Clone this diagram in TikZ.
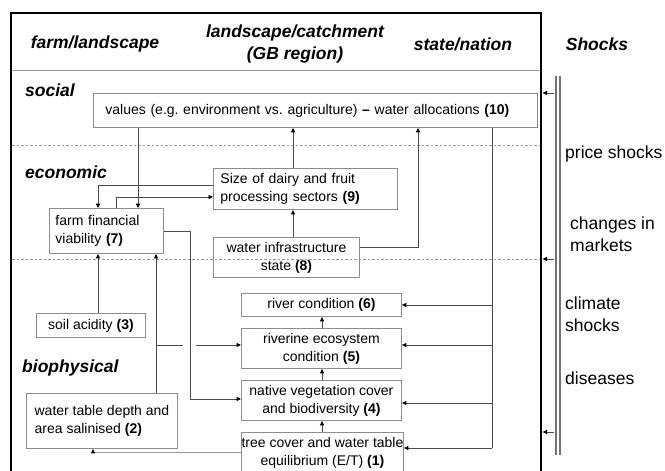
\documentclass[tikz,border=0pt]{standalone}
\usepackage{fontspec}
\setmainfont{Liberation Sans}
\usetikzlibrary{arrows.meta}
\frenchspacing
\begin{document}
\begin{tikzpicture}[x=1pt,y=-1pt,
  box/.style={draw=black!45, line width=0.9pt, inner sep=0pt, anchor=north west,
    font=\fontsize{14}{18}\selectfont},
  conn/.style={draw=black!70, line width=0.85pt},
  arr/.style={conn, -{Triangle[length=4.5pt,width=4pt,color=black]}},
  light/.style={draw=black!40},
  head/.style={font=\fontsize{17.5}{22}\selectfont\bfseries\itshape, inner sep=0pt, align=center},
  shock/.style={font=\fontsize{17.5}{22}\selectfont, inner sep=0pt, anchor=west, align=left},
  sep/.style={draw=black!40, line width=0.8pt},
  dsep/.style={draw=black!40, line width=0.8pt, dash pattern=on 2.5pt off 2pt}
]
\useasboundingbox (0,0) rectangle (665,471);
% frame
\coordinate (fTL) at (11,13);
\coordinate (fTR) at (541,13);
\coordinate (fBL) at (11,480);
\coordinate (fBR) at (541,480);
\draw[line width=1.8pt] (fBL) -- (fTL) -- (fTR) -- (fBR);
% separators
\coordinate (s1L) at (12,70);  \coordinate (s1R) at (540,70);
\coordinate (s2L) at (12,145); \coordinate (s2R) at (540,145);
\coordinate (s3L) at (12,259); \coordinate (s3R) at (540,259);
\draw[sep] (s1L) -- (s1R);
\draw[dsep] (s2L) -- (s2R);
\draw[dsep] (s3L) -- (s3R);
% headers
\node[head] (hfarm) at (95,44) {farm/landscape};
\node[head] (hland) at (295,44) {landscape/catchment\\(GB region)};
\node[head] (hstate) at (463,44) {state/nation};
\node[head] (hshock) at (597,44) {Shocks};
\node[head, anchor=west] (lsoc) at (25,90) {social};
\node[head, anchor=west] (leco) at (25,172) {economic};
\node[head, anchor=west] (lbio) at (22,368) {biophysical};
% boxes
\node[box, minimum width=444, minimum height=34, text width=420, inner xsep=12, align=left] (b10) at (93,93)
  {values (e.g. environment vs. agriculture) \textbf{--} water allocations \textbf{(10)}};
\node[box, minimum width=184, minimum height=41, text width=170, inner xsep=7, align=left] (b9) at (213,168)
  {Size of dairy and fruit\\processing sectors \textbf{(9)}};
\node[box, minimum width=114, minimum height=45, text width=102, inner xsep=6, align=left] (b7) at (49,208)
  {farm financial\\viability \textbf{(7)}};
\node[box, minimum width=146, minimum height=40, align=center] (b8) at (213,237)
  {water infrastructure\\state \textbf{(8)}};
\node[box, minimum width=160, minimum height=23, align=center] (b6) at (241,293)
  {river condition \textbf{(6)}};
\node[box, minimum width=160, minimum height=40, align=center] (b5) at (241,328)
  {riverine ecosystem\\condition \textbf{(5)}};
\node[box, minimum width=160, minimum height=40, align=center] (b4) at (241,380)
  {native vegetation cover\\and biodiversity \textbf{(4)}};
\node[box, minimum width=162, minimum height=41, align=center] (b1) at (241,432)
  {tree cover and water table\\equilibrium (E/T) \textbf{(1)}};
\node[box, minimum width=109, minimum height=24, align=center] (b3) at (36,313)
  {soil acidity \textbf{(3)}};
\node[box, minimum width=151, minimum height=55, align=left] (b2) at (26,393)
  {water table depth and\\area salinised \textbf{(2)}};
% column / row helpers
\coordinate (xA) at (138,0);
\coordinate (xB) at (293,0);
\coordinate (xC) at (418,0);
\coordinate (xD) at (98,0);
\coordinate (xE) at (116,0);
\coordinate (xT) at (492,0);
\coordinate (xF) at (190,0);
\coordinate (xG) at (156,0);
\coordinate (xH) at (93,0);
\coordinate (xV) at (322,0);
\coordinate (y185) at (0,185);
\coordinate (y197) at (0,197);
\coordinate (y247) at (0,247);
\coordinate (y231) at (0,231);
\coordinate (y345) at (0,345);
\coordinate (y399) at (0,399);
\coordinate (y403) at (0,403);
\coordinate (y448) at (0,448);
\coordinate (y452) at (0,452);
\coordinate (gapL) at (183,345);
\coordinate (gapR) at (196,345);
% connectors
\draw[arr] (b10.south -| xA) -- (b7.north -| xA);
\draw[arr] (b9.north -| xB) -- (b10.south -| xB);
\draw[arr] (b8.north -| xB) -- (b9.south -| xB);
\draw[arr] (b8.east |- y247) -| (b10.south -| xC);
\draw[arr] (b9.west |- y185) -| (b7.north -| xD);
\draw[arr] (b7.north -| xE) |- (b9.west |- y197);
\draw[conn] (b10.south -| xT) -- (xT |- y448);
\draw[arr] (xT |- b6.east) -- (b6.east);
\draw[arr] (xT |- y345) -- (b5.east |- y345);
\draw[arr] (xT |- y403) -- (b4.east |- y403);
\draw[arr] (xT |- y448) -- (b1.east |- y448);
\draw[arr] (b7.east |- y231) -| (xF |- y399) -- (b4.west |- y399);
\draw[arr] (b2.north -| xG) -- (b7.south -| xG);
\draw[conn] (xG |- y345) -- (gapL);
\draw[arr] (gapR) -- (b5.west |- y345);
\draw[arr] (b3.north -| xD) -- (b7.south -| xD);
\draw[arr, light] (b1.west |- y452) -| (b2.south -| xH);
\draw[arr] (b1.north -| xV) -- (b4.south -| xV);
\draw[arr] (b4.north -| xV) -- (b5.south -| xV);
\draw[arr] (b5.north -| xV) -- (b6.south -| xV);
% shocks bar
\coordinate (barT) at (558,76);
\coordinate (barB) at (558,455);
\draw[draw=black!55, line width=6pt] (barT) -- (barB);
\draw[draw=white, line width=1.4pt] (barT) -- (barB);
\coordinate (barL) at (554,0);
\coordinate (y93) at (0,93);
\coordinate (y259) at (0,259);
\coordinate (y432) at (0,432);
\draw[arr] (barL |- y93) -- (542.5,93);
\draw[arr] (barL |- y259) -- (542.5,259);
\draw[arr] (barL |- y432) -- (542.5,432);
% shock labels
\node[shock] (sh1) at (565,154) {price shocks};
\node[shock] (sh2) at (570,234) {changes in\\markets};
\node[shock] (sh3) at (565,314) {climate\\shocks};
\node[shock] (sh4) at (565,378) {diseases};
\end{tikzpicture}
\end{document}
